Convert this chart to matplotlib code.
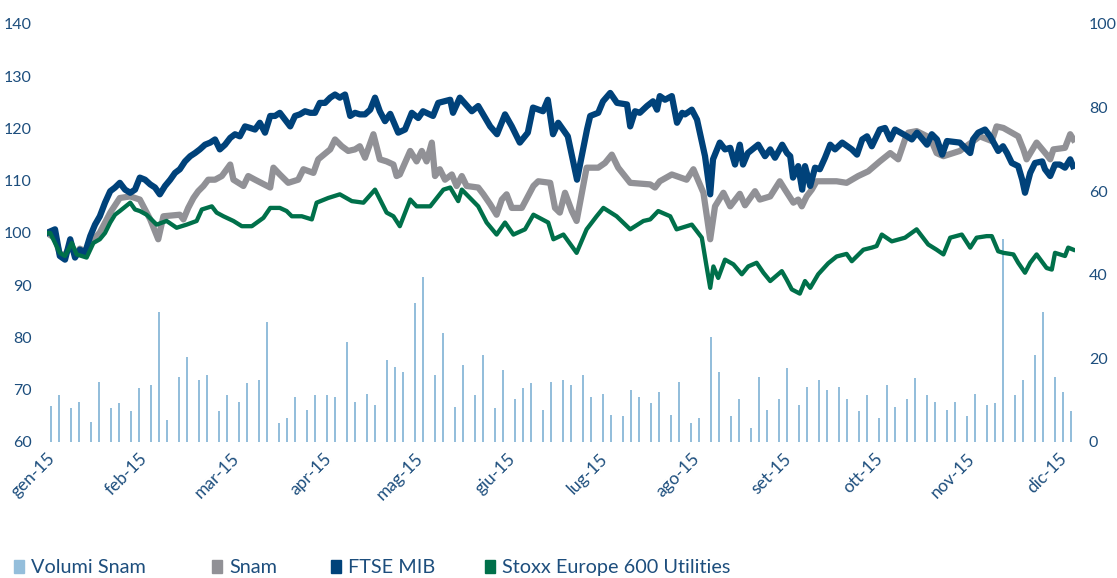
#!/usr/bin/env python3
# -*- coding: utf-8 -*-

import matplotlib
matplotlib.use("Agg")
import matplotlib.pyplot as plt
from matplotlib.patches import Patch

plt.rcParams['font.family'] = ['Lato', 'DejaVu Sans']

# trading-day index (0 = 2 Jan 2015) for the three index lines, base 100
ftse_day = [0, 0.8, 2, 3.2, 4.5, 5.8, 7, 8.2, 9.5, 10.8, 12, 13.2, 14.5, 15.8, 17, 18.2, 19.5,
            20.8, 22, 23.2, 24.5, 25.8, 27, 28.2, 29.5, 30.8, 32, 33.2, 34.5, 35.8, 37, 38.2,
            39.5, 40.8, 42, 43.2, 44.5, 45.8, 47, 48.2, 49.5, 50.8, 52, 53.2, 54.5, 55.8, 57,
            58.2, 59.5, 60.8, 62, 63.2, 64.5, 65.8, 67, 68.2, 69.5, 70.8, 72, 73.2, 74.5, 75.8,
            77, 78.2, 79.5, 80.8, 82, 83.2, 84.5, 85.8, 87.8, 89.5, 91.2, 92.8, 94, 96.5, 97.8,
            100.8, 101.5, 103.2, 106.2, 107.8, 110.8, 112.5, 114.5, 116.2, 118.2, 120.2, 121.5,
            124, 125.2, 126.5, 127.8, 130.2, 132.5, 135, 135.8, 137.8, 139, 140.8, 142.5, 145,
            145.8, 147, 148.2, 150, 151.5, 152.5, 153.2, 154.5, 156.2, 157.5, 158.8, 159.5,
            161.2, 162.5, 164.5, 165.8, 166.5, 168.2, 169.5, 170.8, 172, 173.2, 174, 175.2,
            177.8, 179.5, 180.8, 182, 183.8, 185, 185.8, 186.5, 187.8, 188.8, 189.5, 190.8, 192,
            193.2, 194.5, 195.8, 197, 198.8, 201.2, 202.5, 203.8, 205, 206.2, 208.2, 209.5,
            210.8, 212, 215, 216.2, 217.5, 220, 221.2, 222.5, 223.8, 225, 228.2, 230.8, 231.5,
            232.8, 234.5, 235.8, 237.8, 239, 240, 241.2, 242.8, 243.8, 244.5, 245.8, 247, 248.8,
            249.5, 250.8, 252, 253.2, 254.5, 255.8, 256.5]
ftse_val = [100, 100.3, 100.7, 95.6, 94.9, 98.8, 95.3, 96.8, 96.2, 99.4, 101.6, 103.2, 105.8,
            108, 108.7, 109.6, 108.3, 107.7, 108.3, 110.6, 110.2, 109.3, 108.7, 107.4, 109,
            110.2, 111.5, 112.2, 113.7, 114.7, 115.3, 116, 116.9, 117.3, 117.9, 116, 116.9,
            118.2, 118.9, 118.5, 120.4, 120.1, 119.8, 121.1, 119.2, 122.4, 122.4, 123, 121.7,
            120.4, 122.4, 122.7, 123.3, 123, 123, 124.9, 124.9, 125.9, 126.5, 125.9, 126.5,
            122.4, 123, 122.7, 122.7, 123.6, 125.9, 123.3, 121.4, 122.8, 119.2, 119.8, 123, 122,
            123.3, 122.4, 124.9, 125.5, 123, 125.9, 123.3, 124.3, 120.4, 118.9, 122.7, 120.4,
            117.3, 119.2, 124, 123.3, 125.5, 118.9, 121.1, 118.5, 110.2, 119.8, 122.4, 123,
            125.2, 126.8, 124.9, 124.6, 120.4, 123.3, 123, 124.3, 125.2, 123.6, 126.2, 125.5,
            126.2, 121.1, 123, 122.7, 123.6, 121.7, 114.7, 107.4, 114.1, 117.3, 116, 116.3,
            113.1, 116.9, 113.1, 115.3, 116.9, 114.7, 116, 114.4, 116.9, 115.3, 114.7, 110.6,
            112.8, 108.3, 112.8, 109, 112.5, 112.2, 114.4, 116.9, 116, 117.3, 116, 115, 117.9,
            118.5, 116.6, 119.8, 120.1, 117.9, 119.8, 118.5, 117.9, 119.2, 116.9, 118.9, 117.9,
            115, 117.6, 117.3, 115.3, 117.9, 119.2, 119.8, 118.5, 115.7, 116.6, 115.3, 113.4,
            112.8, 110.2, 107.7, 111.5, 113.4, 113.7, 112.2, 110.9, 113.1, 113.1, 112.5, 114.1,
            112.8]

snam_day = [0, 2, 3.2, 4.5, 5.8, 7, 8.2, 9.5, 10.8, 13.2, 15.8, 18.2, 20.8, 23.2, 25.8, 27.8,
            29.1, 33.2, 34.1, 35.3, 36.6, 37.8, 39.1, 40.3, 42, 43.7, 45.8, 46.6, 49.1, 50.3,
            52, 55.8, 56.6, 58.2, 60.3, 62.8, 64.1, 66.6, 67.8, 70.8, 72, 73.7, 75.3, 77, 78.2,
            79.5, 81.6, 83.2, 84.9, 86.6, 87.4, 88.2, 90.8, 92.4, 93.7, 94.9, 96.2, 97, 98.2,
            99.5, 101.2, 102.4, 103.7, 104.9, 107.8, 109.1, 110.8, 112.4, 113.7, 114.9, 116.2,
            118.7, 121.6, 122.8, 125.8, 127, 128.2, 129.5, 131.2, 132.4, 134.9, 137.8, 139.5,
            141.2, 142.8, 145.8, 150.8, 152, 153.2, 156.2, 159.9, 161.6, 164.1, 165.8, 167,
            169.1, 170.8, 173.2, 174.5, 177, 178.2, 180.8, 183.2, 184.5, 186.6, 187.8, 188.7,
            189.9, 191.2, 192.4, 197.4, 199.9, 202.8, 205.3, 208.2, 210.8, 212.8, 214.5, 215.3,
            217.4, 220.8, 222.4, 224.1, 228.2, 233.2, 236.2, 237.4, 239.1, 241.2, 242.8, 244.1,
            244.9, 247.4, 249.9, 250.8, 251.6, 254.5, 255.8, 256.6]
snam_val = [100, 99, 96, 95.8, 97.5, 96, 97, 96.5, 98, 100.1, 103.9, 106.7, 107, 106.4, 102.6,
            98.8, 103.2, 103.5, 102.6, 104.8, 106.7, 108, 109, 110.2, 110.2, 110.9, 113.1,
            110.2, 109, 110.9, 110.2, 108.7, 112.5, 111.2, 109.6, 110.2, 112.2, 111.5, 114.1,
            116, 117.9, 116.6, 115.7, 116, 116.6, 114.4, 118.9, 114.1, 113.7, 113.1, 110.9,
            111.2, 115.7, 113.7, 115.7, 113.7, 117.3, 110.9, 112.2, 110.2, 111.2, 109, 110.9,
            109, 108.7, 107.4, 105.5, 103.5, 106.4, 107.4, 104.8, 104.8, 109, 109.9, 109.6,
            104.8, 103.9, 107.7, 104.2, 102.3, 112.5, 112.5, 113.4, 115, 112.5, 109.6, 109.3,
            108.7, 109.9, 111.2, 110.2, 112.2, 107.7, 98.8, 105.1, 107.7, 105.1, 107.5, 105.3,
            108, 106.4, 107, 109.9, 108.3, 105.8, 106.4, 105.1, 107, 108.3, 109.9, 109.9, 109.6,
            110.9, 111.8, 113.7, 115.3, 114.1, 117.9, 119.2, 119.5, 118.2, 115.3, 114.7, 115.7,
            118.5, 117.6, 120.4, 120.1, 119.2, 118.5, 116, 114.1, 117.3, 115, 114.1, 116, 116.3,
            118.9, 117.9]

stoxx_day = [0, 0.8, 3.2, 4.5, 6.2, 7.4, 9.9, 11.6, 13.2, 14.5, 15.8, 17, 18.2, 20.8, 22, 23.2,
             24.9, 27.4, 29.9, 32.4, 34.9, 37.4, 38.7, 41.2, 42.4, 44.1, 46.6, 48.7, 51.2, 54.1,
             55.8, 58.2, 59.9, 61.2, 63.7, 66.2, 67.4, 70.3, 73.2, 76.2, 79.1, 82, 84.9, 86.6,
             88.2, 90.8, 92.4, 95.8, 99.1, 100.8, 102.8, 103.7, 107.8, 109.9, 112.4, 114.5,
             116.6, 119.5, 121.6, 125.3, 126.6, 129.1, 132.4, 134.9, 137.4, 139.1, 142.4, 145.8,
             149.1, 150.8, 152.8, 155.8, 157.4, 161.2, 163.7, 164.8, 165.8, 166.6, 167.8, 169.5,
             171.6, 173.7, 175.3, 177.4, 179.1, 180.8, 183.7, 184.9, 186.2, 188.2, 189.5, 190.8,
             192.8, 195.3, 197.4, 199.9, 201.2, 204.1, 206.2, 207.4, 208.7, 211.2, 214.5, 217.4,
             220.3, 222.4, 224.1, 225.8, 228.7, 230.8, 232.4, 234.9, 236.2, 237.8, 239.1, 241.6,
             242.8, 244.5, 245.8, 247.4, 249.9, 251.2, 252, 254.5, 255.3, 256.6]
stoxx_val = [100, 100, 96.2, 95.6, 98.1, 95.9, 95.3, 98.1, 98.8, 100, 102, 103.5, 104.2, 105.8,
             104.5, 104.2, 103.5, 101.6, 102.3, 101, 101.6, 102.3, 104.5, 105.1, 103.9, 103.2,
             102.3, 101.3, 101.3, 102.9, 104.8, 104.8, 104.2, 103.2, 103.2, 102.6, 105.8, 106.7,
             107.4, 106.1, 105.8, 108.3, 103.9, 103.2, 101.3, 106.4, 105.1, 105.1, 108.3, 108.7,
             106.1, 108.3, 105.1, 102, 99.7, 102, 99.7, 100.7, 103.5, 102, 98.8, 99.7, 96.2,
             100.7, 103.2, 104.8, 103.2, 100.7, 102.3, 102.6, 104.2, 103.2, 100.7, 101.6, 99.1,
             94, 89.5, 93.6, 91.4, 94.9, 94, 92.1, 93.6, 94.3, 92.4, 90.8, 92.7, 91.1, 89.2,
             88.4, 90.8, 89.5, 92.1, 94.2, 95.5, 96, 94.6, 96.8, 97.2, 97.5, 99.7, 98.4, 99.1,
             100.7, 97.8, 96.8, 95.9, 99.1, 99.7, 97.2, 99.1, 99.4, 99.4, 96.5, 96.2, 95.9, 94.3,
             92.4, 94.3, 95.9, 93.3, 93, 96.2, 95.6, 97.2, 96.8]

# Snam traded volumes (right axis)
vol_day = [1, 3, 6, 8, 11, 13, 16, 18, 21, 23, 26, 28, 30, 33, 35, 38, 40, 43, 45, 48, 50, 53,
           55, 58, 60, 62, 65, 67, 70, 72, 75, 77, 80, 82, 85, 87, 89, 92, 94, 97, 99, 102, 104,
           107, 109, 112, 114, 117, 119, 121, 124, 126, 129, 131, 134, 136, 139, 141, 144, 146,
           148, 151, 153, 156, 158, 161, 163, 166, 168, 171, 173, 176, 178, 180, 183, 185, 188,
           190, 193, 195, 198, 200, 203, 205, 208, 210, 212, 215, 217, 220, 222, 225, 227, 230,
           232, 235, 237, 239, 242, 244, 247, 249, 252, 254, 256]
vol_val = [8.6, 11.2, 8.1, 9.6, 4.9, 14.4, 8.1, 9.3, 7.3, 12.8, 13.6, 31.2, 5.3, 15.6, 20.4,
           14.8, 16.0, 7.3, 11.2, 9.6, 14.0, 14.8, 28.8, 4.5, 5.7, 10.8, 7.7, 11.2, 11.2, 10.8,
           24.0, 9.6, 11.6, 8.9, 19.6, 18.0, 16.8, 33.2, 39.5, 16.0, 26.0, 8.4, 18.4, 11.2, 20.8,
           8.1, 17.2, 10.4, 12.8, 14.0, 7.7, 14.4, 14.8, 13.6, 16.0, 10.8, 11.6, 6.5, 6.1, 12.4,
           10.8, 9.3, 12.0, 6.5, 14.4, 4.5, 5.7, 25.2, 16.8, 6.1, 10.4, 3.3, 15.6, 7.7, 10.4,
           17.6, 8.9, 13.2, 14.8, 12.4, 13.2, 10.4, 7.3, 11.2, 5.7, 13.6, 8.4, 10.4, 15.2, 11.2,
           9.6, 7.7, 9.6, 6.1, 11.6, 8.9, 9.3, 48.5, 11.2, 14.8, 20.8, 31.2, 15.6, 12.0, 7.3]

month_day = [0, 23, 46, 69, 92, 115, 138, 161, 184, 207, 230, 253]
month_lab = ['gen-15', 'feb-15', 'mar-15', 'apr-15', 'mag-15', 'giu-15',
             'lug-15', 'ago-15', 'set-15', 'ott-15', 'nov-15', 'dic-15']

c_text = '#1d4e7d'
c_vol = '#94bedb'
c_snam = '#919196'
c_ftse = '#00427a'
c_stoxx = '#00704a'

fig = plt.figure(figsize=(11.17, 5.78), dpi=100)
ax = fig.add_axes([0.0421, 0.2353, 0.9203, 0.7232])
ax2 = ax.twinx()

ax2.bar(vol_day, vol_val, width=0.55, color=c_vol, linewidth=0)
ax2.set_ylim(0, 100)
ax2.set_yticks(range(0, 101, 20))

ax.plot(snam_day, snam_val, color=c_snam, lw=4.5, solid_joinstyle='round')
ax.plot(ftse_day, ftse_val, color=c_ftse, lw=4.5, solid_joinstyle='round')
ax.plot(stoxx_day, stoxx_val, color=c_stoxx, lw=3.1, solid_joinstyle='round')
ax.set_ylim(60, 140)
ax.set_yticks(range(60, 141, 10))
ax.set_xlim(0, 257)
ax.set_xticks(month_day)
ax.set_xticklabels(month_lab, rotation=45, ha='right', va='top', rotation_mode='anchor')

ax.set_zorder(ax2.get_zorder() + 1)
ax.patch.set_visible(False)

for a in (ax, ax2):
    for s in a.spines.values():
        s.set_visible(False)
    a.tick_params(length=0, colors=c_text, labelsize=11.5)
ax.tick_params(axis='y', pad=11)
ax.tick_params(axis='x', pad=6, labelsize=12.5)
ax2.tick_params(axis='y', pad=10)

# legend entries laid out one by one, like the original bottom row
entries = [(c_vol, 'Volumi Snam', 0.0125),
           (c_snam, 'Snam', 0.1898),
           (c_ftse, 'FTSE MIB', 0.2963),
           (c_stoxx, 'Stoxx Europe 600 Utilities', 0.4342)]
for col, lab, xpos in entries:
    leg = fig.legend(handles=[Patch(color=col, label=lab)], loc='center left',
                     bbox_to_anchor=(xpos, 0.018), frameon=False, fontsize=14.3,
                     handlelength=0.5, handleheight=0.62, handletextpad=0.35,
                     borderpad=0, borderaxespad=0)
    for t in leg.get_texts():
        t.set_color(c_text)

fig.savefig('out.png', dpi=100)
